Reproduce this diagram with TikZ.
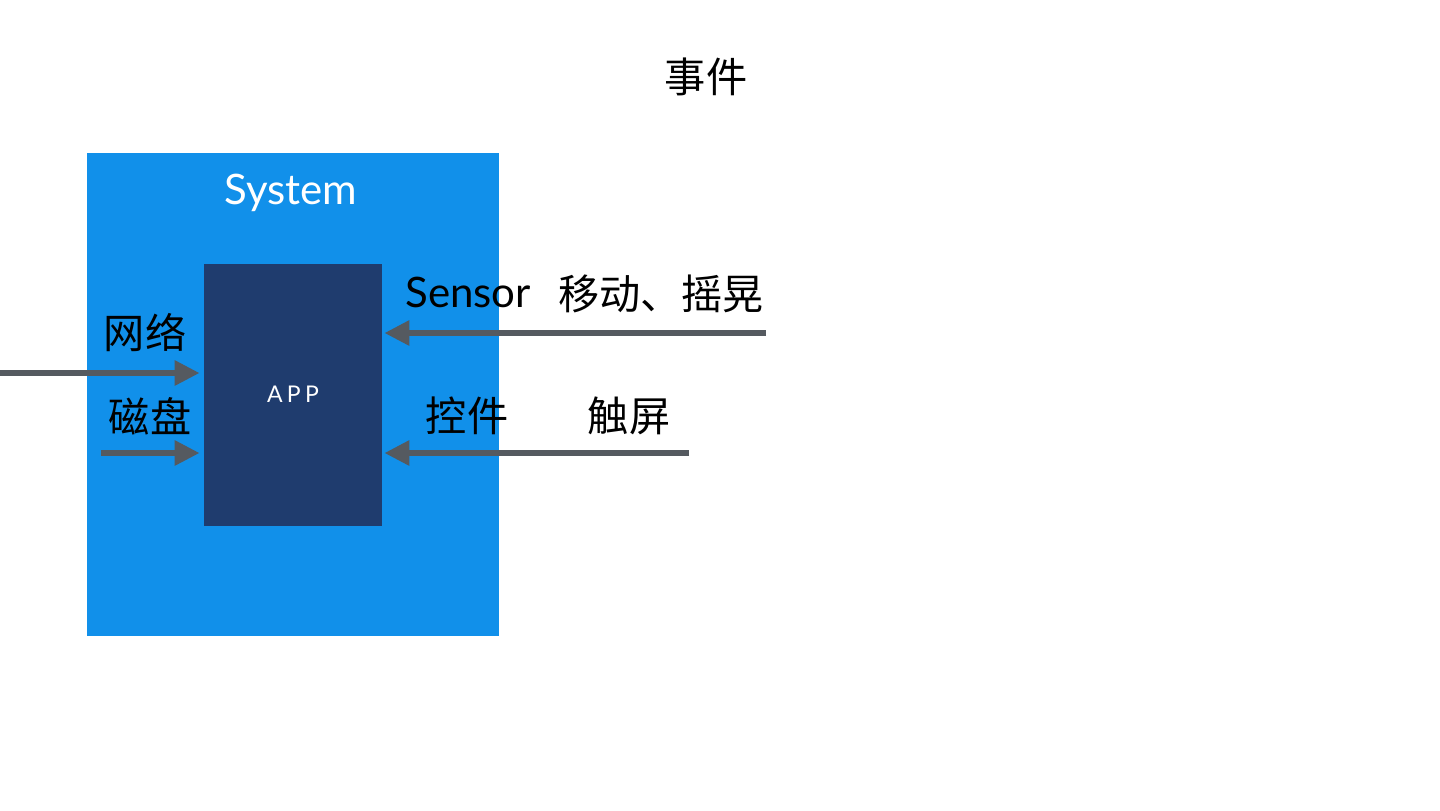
\documentclass[tikz,border=0pt]{standalone}
\usepackage{fontspec}
\setmainfont{Lato}
\newfontfamily\cjk{Noto Sans CJK SC}
\usetikzlibrary{arrows.meta}
\definecolor{sysblue}{HTML}{1190EA}
\definecolor{appblue}{HTML}{1F3C6E}
\definecolor{arrgray}{HTML}{555A60}
\tikzset{
  arr/.style={draw=arrgray, line width=3pt, -{Triangle[length=12.5pt,width=12pt]}},
  zh/.style={font=\cjk\fontsize{20.6pt}{24pt}\selectfont, text=black, inner sep=0pt},
  en/.style={font=\fontsize{21pt}{24pt}\selectfont, inner sep=0pt},
}
\begin{document}
\begin{tikzpicture}[x=0.5pt,y=-0.5pt]
\useasboundingbox (0,0) rectangle (1440,810);
\fill[white] (0,0) rectangle (1440,810);
\node[zh] (title) at (706,77) {事件};
\node[fill=sysblue, minimum width=206pt, minimum height=241.5pt, inner sep=0pt] (sys) at (293,394.5) {};
\node[en, text=white] (systxt) at (291,193) {System};
\node[fill=appblue, minimum width=89pt, minimum height=131pt, inner sep=0pt] (app) at (293,395) {};
\node[font=\fontsize{11.5pt}{13pt}\selectfont, text=white, inner sep=0pt] (apptxt) at (293,394) {A\kern2.2ptP\kern2.2ptP};
\coordinate (netsrc) at (0,373);
\coordinate (disksrc) at (101,453);
\coordinate (sensrc) at (766,333);
\coordinate (touchsrc) at (689,453);
\draw[arr] (netsrc) -- ([xshift=-2pt]netsrc -| app.west);
\draw[arr] (disksrc) -- ([xshift=-2pt]disksrc -| app.west);
\draw[arr] (sensrc) -- ([xshift=1pt]sensrc -| app.east);
\draw[arr] (touchsrc) -- ([xshift=1pt]touchsrc -| app.east);
\node[zh] (net) at (145,333) {网络};
\node[zh] (disk) at (150,416) {磁盘};
\node[en, anchor=base west] (sensor) at (405,307) {Sensor};
\node[zh] (shake) at (661,294) {移动、摇晃};
\node[zh] (ctrl) at (467,416) {控件};
\node[zh] (touch) at (629,416) {触屏};
\end{tikzpicture}
\end{document}
